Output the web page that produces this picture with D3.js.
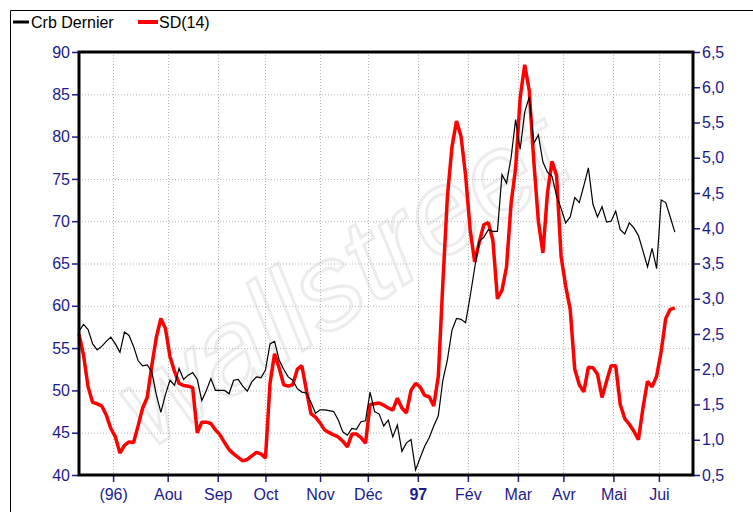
<!DOCTYPE html>
<html>
<head>
<meta charset="utf-8">
<script src="https://cdn.jsdelivr.net/npm/d3@7"></script>
<style>
  body { margin: 0; background: #fff; }
  text { font-family: "Liberation Sans", Arial, sans-serif; }
</style>
</head>
<body>
<script>
// Crb Dernier (left axis) and SD(14) (right axis), one point every 2 sessions
const crbDernier = [57.0, 57.8, 57.2, 55.5, 54.8, 55.2, 55.8, 56.3, 55.5, 54.5,
  56.9, 56.5, 55.2, 53.5, 52.9, 53.0, 52.2, 49.5, 47.4, 49.5,
  51.2, 50.6, 52.6, 51.3, 51.8, 52.1, 51.3, 48.8, 50.0, 51.4,
  50.0, 50.0, 50.0, 49.6, 51.2, 51.3, 50.5, 49.9, 51.0, 51.6,
  51.5, 52.4, 55.5, 55.8, 53.6, 52.5, 51.6, 51.2, 50.2, 49.8,
  49.7, 48.6, 47.3, 47.7, 47.7, 47.6, 47.5, 46.5, 45.1, 44.7,
  45.5, 45.4, 46.3, 46.4, 49.8, 47.5, 47.2, 45.8, 46.5, 44.5,
  45.9, 42.8, 43.8, 44.2, 40.6, 42.0, 43.4, 44.4, 45.8, 47.0,
  51.2, 53.6, 57.1, 58.5, 58.4, 58.0, 61.1, 64.5, 67.6, 68.1,
  69.0, 68.8, 68.8, 75.5, 74.5, 77.5, 82.0, 78.5, 82.9, 84.7,
  79.2, 80.2, 77.0, 75.8, 75.3, 73.0, 71.5, 69.8, 70.5, 72.8,
  72.2, 74.2, 76.3, 72.0, 70.5, 71.7, 69.9, 70.0, 71.2, 69.0,
  68.5, 69.8, 69.2, 68.3, 66.5, 64.6, 66.8, 64.4, 72.5, 72.2,
  70.5, 68.7];

const sd14 = [2.50, 2.20, 1.75, 1.53, 1.51, 1.48, 1.35, 1.16, 1.04, 0.81,
  0.92, 0.97, 0.96, 1.20, 1.45, 1.60, 2.05, 2.45, 2.72, 2.58,
  2.18, 1.97, 1.80, 1.77, 1.76, 1.74, 1.10, 1.25, 1.25, 1.23,
  1.14, 1.07, 0.96, 0.86, 0.80, 0.75, 0.70, 0.72, 0.77, 0.82,
  0.80, 0.74, 1.80, 2.22, 2.02, 1.78, 1.76, 1.78, 2.00, 2.05,
  1.70, 1.37, 1.32, 1.24, 1.14, 1.10, 1.07, 1.04, 0.98, 0.90,
  1.08, 1.08, 1.03, 0.95, 1.50, 1.51, 1.52, 1.49, 1.45, 1.42,
  1.59, 1.45, 1.38, 1.70, 1.80, 1.75, 1.63, 1.61, 1.48, 1.90,
  3.22, 4.45, 5.15, 5.52, 5.30, 4.75, 3.98, 3.52, 3.80, 4.05,
  4.08, 3.83, 3.00, 3.12, 3.45, 4.35, 4.85, 5.85, 6.32, 5.95,
  4.95, 4.10, 3.65, 4.50, 4.95, 4.75, 3.60, 3.18, 2.85, 2.00,
  1.78, 1.68, 2.03, 2.02, 1.93, 1.60, 1.83, 2.05, 2.05, 1.50,
  1.30, 1.22, 1.12, 1.00, 1.45, 1.83, 1.75, 1.90, 2.25, 2.72,
  2.85, 2.87];

// month ticks, position in sessions
const monthTicks = [15, 39, 61, 82, 106, 127, 149, 171, 193, 213, 235, 255];
const monthLabels = ["(96)", "Aou", "Sep", "Oct", "Nov", "Déc", "97", "Fév", "Mar", "Avr", "Mai", "Jui"];
const leftTicks = [40, 45, 50, 55, 60, 65, 70, 75, 80, 85, 90];
const rightTicks = [0.5, 1.0, 1.5, 2.0, 2.5, 3.0, 3.5, 4.0, 4.5, 5.0, 5.5, 6.0, 6.5];

const W = 753, H = 512;
const mLeft = 79, mRight = 693, mTop = 52, mBottom = 475;
const navy = "#1c1c8c";

const svg = d3.select("body").append("svg").attr("width", W).attr("height", H);

const x = d3.scaleLinear().domain([0, 270]).range([mLeft, mRight]);
const yL = d3.scaleLinear().domain([40, 90]).range([mBottom, mTop]);
const yR = d3.scaleLinear().domain([0.5, 6.5]).range([mBottom, mTop]);

// outer frame (top + left edge)
svg.append("path")
    .attr("d", `M10.5,${H} V10.5 H${W}`)
    .attr("fill", "none").attr("stroke", "#000").attr("stroke-width", 1);

// watermark, very faint
svg.append("text")
    .attr("transform", "translate(150,450) rotate(-33)")
    .attr("font-size", 120).attr("font-style", "italic")
    .attr("font-family", "DejaVu Serif, serif")
    .attr("fill", "none").attr("stroke", "#ececec").attr("stroke-width", 3)
    .text("wallstreet");

// grid
const fmtR = d3.format(".1f");
svg.append("g").selectAll("line")
    .data(leftTicks.slice(1, -1))
    .enter().append("line")
      .attr("x1", mLeft).attr("x2", mRight)
      .attr("y1", d => yL(d) + 0.5).attr("y2", d => yL(d) + 0.5)
      .attr("stroke", "#b8b8b8").attr("stroke-dasharray", "1,2");
svg.append("g").selectAll("line")
    .data(monthTicks)
    .enter().append("line")
      .attr("x1", d => Math.round(x(d)) + 0.5).attr("x2", d => Math.round(x(d)) + 0.5)
      .attr("y1", mTop).attr("y2", mBottom)
      .attr("stroke", "#b8b8b8").attr("stroke-dasharray", "1,2");

// series
const lineL = d3.line().x((d, i) => x(i * 2)).y(d => yL(d));
const lineR = d3.line().x((d, i) => x(i * 2)).y(d => yR(d));

svg.append("path").datum(sd14)
    .attr("d", lineR)
    .attr("fill", "none").attr("stroke", "#ff0000").attr("stroke-width", 3.5)
    .attr("stroke-linejoin", "bevel");

svg.append("path").datum(crbDernier)
    .attr("d", lineL)
    .attr("fill", "none").attr("stroke", "#000").attr("stroke-width", 1.2);

// axes
const axL = svg.append("g").attr("transform", `translate(${mLeft - 1},0)`)
    .call(d3.axisLeft(yL).tickValues(leftTicks).tickSize(6).tickPadding(2));
const axR = svg.append("g").attr("transform", `translate(${mRight + 1},0)`)
    .call(d3.axisRight(yR).tickValues(rightTicks).tickSize(6).tickPadding(2)
      .tickFormat(d => fmtR(d).replace(".", ",")));
const axB = svg.append("g").attr("transform", `translate(0,${mBottom + 1})`)
    .call(d3.axisBottom(x).tickValues(monthTicks).tickSize(6).tickPadding(7)
      .tickFormat((d, i) => monthLabels[i]));

[axL, axR, axB].forEach(ax => {
  ax.select(".domain").remove();
  ax.selectAll(".tick line").attr("stroke", navy).attr("stroke-width", 1.5);
  ax.selectAll(".tick text").attr("fill", navy).attr("font-size", 16)
    .attr("font-family", "Liberation Sans, Arial, sans-serif");
});
axB.selectAll(".tick text").filter(d => d === 149).attr("font-weight", "bold");

// plot frame
svg.append("rect")
    .attr("x", mLeft).attr("y", mTop)
    .attr("width", mRight - mLeft).attr("height", mBottom - mTop)
    .attr("fill", "none").attr("stroke", "#000").attr("stroke-width", 3);

// legend
svg.append("line").attr("x1", 13).attr("x2", 29).attr("y1", 22).attr("y2", 22)
    .attr("stroke", "#000").attr("stroke-width", 3);
svg.append("text").attr("x", 31).attr("y", 28).attr("font-size", 16).text("Crb Dernier");
svg.append("line").attr("x1", 138).attr("x2", 158).attr("y1", 22).attr("y2", 22)
    .attr("stroke", "#ff0000").attr("stroke-width", 4);
svg.append("text").attr("x", 159).attr("y", 28).attr("font-size", 16).text("SD(14)");
</script>
</body>
</html>
